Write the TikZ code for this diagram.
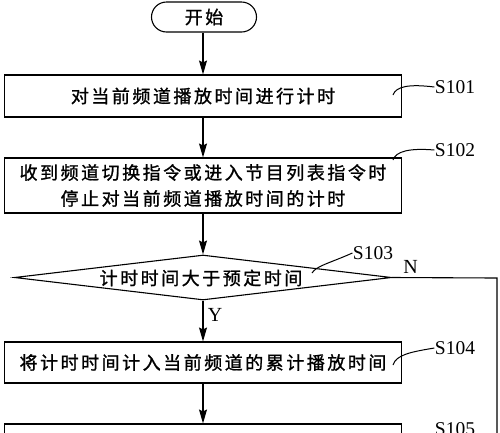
\documentclass[tikz,border=0pt]{standalone}
\usepackage{fontspec}
\setmainfont{Liberation Serif}
\newfontfamily\cjk[LetterSpace=14,FakeBold=1.2]{Noto Sans CJK SC}
\usetikzlibrary{shapes.geometric,arrows.meta}
\begin{document}
\begin{tikzpicture}[x=1pt,y=-1pt,line width=1.1pt,
  box/.style={draw,rectangle,minimum width=397pt,inner sep=0pt,align=center,font=\cjk\fontsize{18}{26}\selectfont},
  lbl/.style={font=\fontsize{19.5}{20}\selectfont,inner sep=0pt},
  yn/.style={font=\fontsize{20}{20}\selectfont,inner sep=0pt},
  cjktext/.style={font=\cjk\fontsize{18}{26}\selectfont,inner sep=0pt},
  arr/.style={-{Stealth[length=14pt,width=8pt,inset=2pt]}},
  lead/.style={line width=1pt}]
\useasboundingbox (0,0) rectangle (500,432);
\node[draw,rectangle,rounded corners=15pt,minimum width=105pt,minimum height=30pt,inner sep=0pt,font=\cjk\fontsize{18}{26}\selectfont] (start) at (204,17) {开始};
\node[box,minimum height=42pt] (s1) at (203,96) {对当前频道播放时间进行计时};
\node[box,minimum height=55pt] (s2) at (203,185.5) {收到频道切换指令或进入节目列表指令时\\停止对当前频道播放时间的计时};
\node[draw,diamond,minimum width=377pt,minimum height=45pt,inner sep=0pt] (d) at (203,277.5) {};
\node[cjktext] (dt) at (201,278) {计时时间大于预定时间};
\node[box,minimum height=41pt] (s4) at (203,362.5) {将计时时间计入当前频道的累计播放时间};
\node[box,minimum height=42pt] (s5) at (203,445) {};
% arrows
\draw[arr] (start.south -| s1.north) -- (s1.north);
\draw[arr] (s1.south) -- (s2.north);
\draw[arr] (s2.south) -- (d.north);
\draw[arr] (d.south) -- (s4.north);
\draw[arr] (s4.south) -- (s5.north);
\coordinate (nc) at (497,278);
\coordinate (ne) at (497,440);
\draw (d.east) -- (nc) -- (ne);
\node[yn] (Y) at (215,315) {Y};
\node[yn] (N) at (410.5,267) {N};
% labels
\node[lbl] (l1) at (455,87) {S101};
\node[lbl] (l2) at (455,150) {S102};
\node[lbl] (l3) at (373,253) {S103};
\node[lbl] (l4) at (455,348) {S104};
\node[lbl] (l5) at (455,429) {S105};
\coordinate (a1) at (393,95);
\coordinate (a2) at (393,160);
\coordinate (a3) at (312,273);
\coordinate (a4) at (393,365);
\draw[lead] (a1) .. controls (396,86) and (410,84) .. (l1.west);
\draw[lead] (a2) .. controls (396,151) and (410,148) .. (l2.west);
\draw[lead] (a3) .. controls (316,266) and (330,263) .. (l3.west);
\draw[lead] (a4) .. controls (396,355) and (410,352) .. (l4.west);
\end{tikzpicture}
\end{document}
